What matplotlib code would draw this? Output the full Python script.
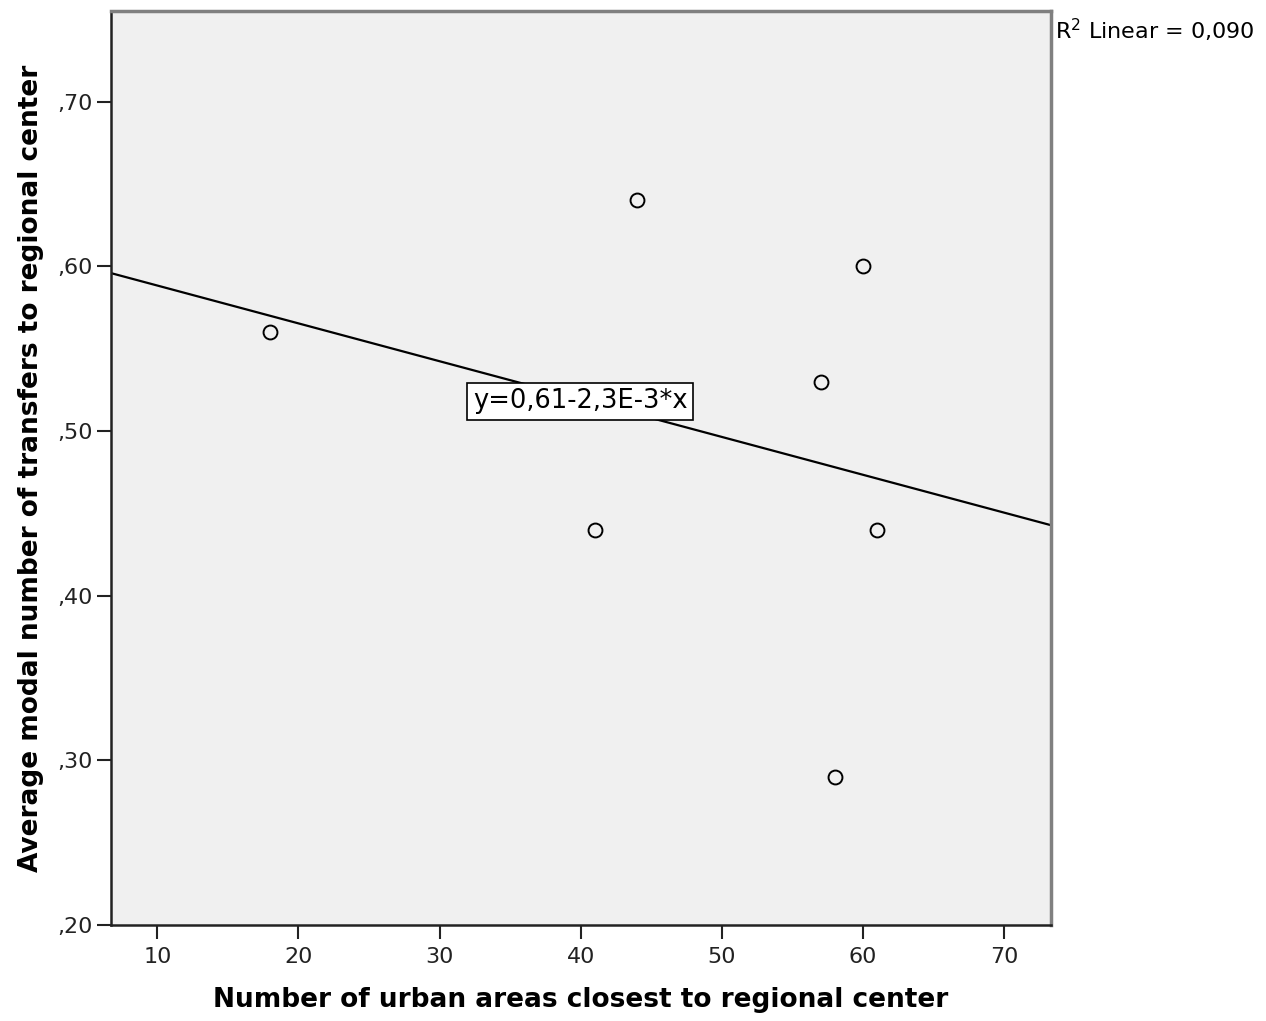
import numpy as np
import matplotlib
matplotlib.use("Agg")
import matplotlib.pyplot as plt

# urban areas closest to regional center vs. average modal transfers
urban_areas = [18, 44, 60, 57, 41, 61, 58]
avg_transfers = [0.56, 0.64, 0.60, 0.53, 0.44, 0.44, 0.29]
x_ticks = [10, 20, 30, 40, 50, 60, 70]
y_ticks = [0.20, 0.30, 0.40, 0.50, 0.60, 0.70]
y_tick_labels = [",20", ",30", ",40", ",50", ",60", ",70"]

fig = plt.figure(figsize=(12.66, 10.21), dpi=100)
ax = fig.add_axes([0.0877, 0.094, 0.7425, 0.8952])
ax.set_facecolor("#f0f0f0")

xlim = (6.72, 73.33)
ylim = (0.20, 0.755)

# least squares fit line
slope, intercept = np.polyfit(urban_areas, avg_transfers, 1)
pred = np.polyval([slope, intercept], urban_areas)
ss_res = np.sum((np.array(avg_transfers) - pred) ** 2)
ss_tot = np.sum((np.array(avg_transfers) - np.mean(avg_transfers)) ** 2)
r2 = 1 - ss_res / ss_tot

xs = np.array(xlim)
ax.plot(xs, intercept + slope * xs, color="black", lw=1.6, zorder=2)

ax.plot(urban_areas, avg_transfers, linestyle="none", marker="o", ms=10,
        mfc="none", mec="black", mew=1.4, zorder=3)

eq = "y=%.2f-%.1fE-3*x" % (intercept, -slope * 1000)
ax.text(39.96, 0.518, eq.replace(".", ","), fontsize=18.5, ha="center", va="center",
        bbox=dict(boxstyle="square,pad=0.22", fc="white", ec="black", lw=1.2), zorder=4)

ax.set_xlim(*xlim)
ax.set_ylim(*ylim)
ax.set_xticks(x_ticks)
ax.set_yticks(y_ticks)
ax.set_yticklabels(y_tick_labels)
ax.tick_params(axis="both", direction="out", length=10, width=1.5, labelsize=16,
               colors="#222222", pad=3)
ax.tick_params(axis="x", pad=6)

for side in ["left", "bottom"]:
    ax.spines[side].set_color("#222222")
    ax.spines[side].set_linewidth(1.8)
for side in ["top", "right"]:
    ax.spines[side].set_color("#808080")
    ax.spines[side].set_linewidth(2.5)

ax.set_xlabel("Number of urban areas closest to regional center", fontsize=19,
              fontweight="bold", labelpad=14)
ax.set_ylabel("Average modal number of transfers to regional center", fontsize=19,
              fontweight="bold", labelpad=10)

fig.text(1055 / 1266, 1 - 30 / 1021, "R$^2$ Linear = %s" % ("%.3f" % r2).replace(".", ","),
         fontsize=16, ha="left", va="center")

fig.savefig("out.png", dpi=100)
